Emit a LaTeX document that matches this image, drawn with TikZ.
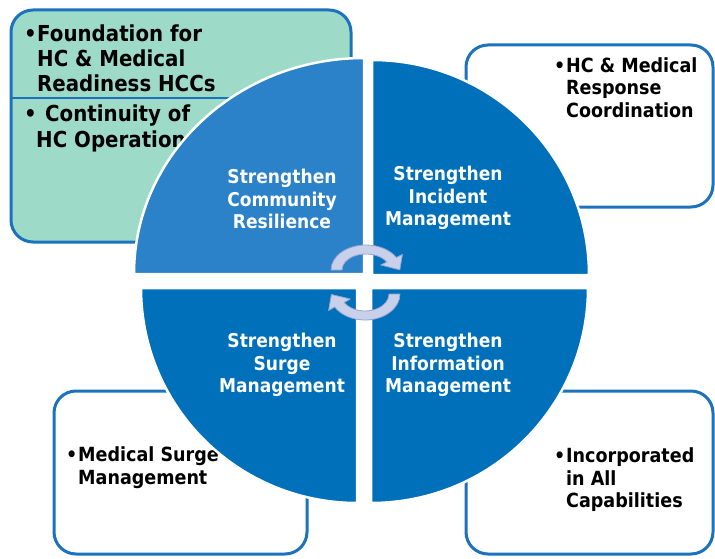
\documentclass[tikz,border=0pt]{standalone}
\usepackage{fontspec}
\setmainfont{DejaVu Sans}[FakeStretch=0.9]
\definecolor{boxblue}{HTML}{1C72BD}
\definecolor{mintfill}{HTML}{9DDBC8}
\definecolor{qlight}{HTML}{2B82C8}
\definecolor{qdark}{HTML}{0070BA}
\definecolor{arrfill}{HTML}{C9D0EA}
\definecolor{arrline}{HTML}{95A3D3}
\tikzset{
  frame/.style={draw=boxblue, line width=3pt, rounded corners=22pt},
  quad/.style={draw=white, line width=2.5pt},
  wtext/.style={text=white, font=\bfseries\fontsize{19}{22.5}\selectfont, align=center, inner sep=0pt},
  btext/.style={font=\bfseries\fontsize{19.5}{22.5}\selectfont, anchor=base west, inner sep=0pt},
  bigtext/.style={font=\bfseries\fontsize{22}{25}\selectfont, anchor=base west, inner sep=0pt},
  arr/.style={fill=arrfill, draw=arrline, line width=0.8pt, line join=round}
}
\begin{document}
\begin{tikzpicture}[x=1pt,y=-1pt]
\useasboundingbox (0,0) rectangle (715,559);
% boxes
\draw[frame, fill=mintfill] (11,10) rectangle (351,242);
\draw[boxblue, line width=2pt] (12,98) -- (330,98);
\draw[frame, fill=white] (466,45) rectangle (713,207);
\draw[frame, fill=white] (54,391) rectangle (307,554);
\draw[frame, fill=white] (466,391) rectangle (713,554);
% box texts
\node[bigtext] (tlb1) at (24,41.5) {•};
\node[bigtext] (tl1) at (37,41.5) {Foundation for};
\node[bigtext] (tl2) at (37,66.5) {HC \& Medical};
\node[bigtext] (tl3) at (37,91.5) {Readiness HCCs};
\node[bigtext] (tlb2) at (24,121.5) {•};
\node[bigtext] (tl4) at (45,121.5) {Continuity of};
\node[bigtext] (tl5) at (36,147.5) {HC Operation};
\node[btext] (trb) at (554,72.5) {•};
\node[btext] (tr1) at (566,72.5) {HC \& Medical};
\node[btext] (tr2) at (566,95) {Response};
\node[btext] (tr3) at (566,117.5) {Coordination};
\node[btext] (blb) at (66,461.5) {•};
\node[btext] (bl1) at (78,461.5) {Medical Surge};
\node[btext] (bl2) at (78,484) {Management};
\node[btext] (brb) at (554,462.5) {•};
\node[btext] (br1) at (566,462.5) {Incorporated};
\node[btext] (br2) at (566,485) {in All};
\node[btext] (br3) at (566,507.5) {Capabilities};
% quadrants
\filldraw[quad, fill=qlight] (364,274) -- ++(-230,0) arc[start angle=180,end angle=270,x radius=230,y radius=216] -- cycle;
\filldraw[quad, fill=qdark] (372,275) -- ++(0,-215) arc[start angle=270,end angle=360,x radius=217,y radius=215] -- cycle;
\filldraw[quad, fill=qdark] (357,288) -- ++(0,215) arc[start angle=90,end angle=180,x radius=216,y radius=215] -- cycle;
\filldraw[quad, fill=qdark] (371,288) -- ++(217,0) arc[start angle=0,end angle=90,x radius=217,y radius=215] -- cycle;
% quadrant labels
\node[wtext] (qtl) at (282,199) {Strengthen\\Community\\Resilience};
\node[wtext] (qtr) at (448,198) {Strengthen\\Incident\\Management};
\node[wtext] (qbl) at (282,365) {Strengthen\\Surge\\Management};
\node[wtext] (qbr) at (448,365) {Strengthen\\Information\\Management};
% cycle arrows
\filldraw[arr] (331,270) arc[start angle=180,end angle=330,x radius=35,y radius=25]
  -- (402.4,254.5) -- (399.8,269.8) -- (380.7,265) -- (386.8,262)
  arc[start angle=330,end angle=180,x radius=24,y radius=16] -- cycle;
\filldraw[arr] (400,294) arc[start angle=0,end angle=150,x radius=35,y radius=26]
  -- (328.6,310.5) -- (331.4,294.5) -- (350.3,299) -- (344.2,302.5)
  arc[start angle=150,end angle=0,x radius=24,y radius=17] -- cycle;
\end{tikzpicture}
\end{document}
